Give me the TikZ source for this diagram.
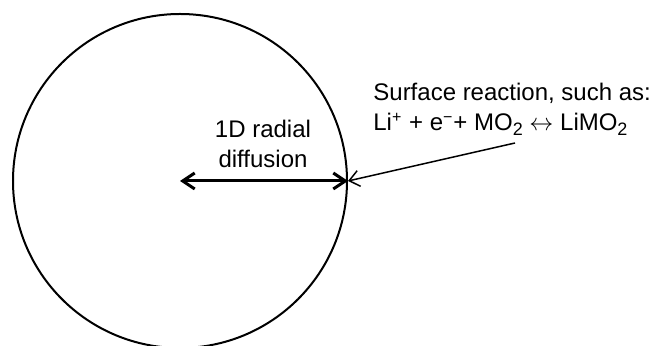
\documentclass[tikz,border=0pt]{standalone}
\usepackage{fontspec}
\setmainfont{Liberation Sans}
\usetikzlibrary{arrows.meta}
\tikzset{
  lbl/.style={inner sep=0pt, font=\fontsize{12}{15}\selectfont},
  thickarrow/.style={line width=1.5pt, {Straight Barb[length=6pt,width=8pt]}-{Straight Barb[length=6pt,width=8pt]}},
  thinarrow/.style={line width=0.75pt, -{Straight Barb[length=5pt,width=8pt]}},
}
\begin{document}
\begin{tikzpicture}[x=0.5pt,y=-0.5pt]
\useasboundingbox (0,0) rectangle (655,346);
\clip (0,0) rectangle (655,346);
\node[circle, draw, line width=1pt, minimum size=167pt, inner sep=0pt] (ball) at (180,181) {};
\coordinate (rx) at (515,143);
\draw[thickarrow] (ball.center) -- (ball.east);
\draw[thinarrow] (rx) -- (ball.east);
\node[lbl, align=center, anchor=base] (diff) at (263,168) {1D radial\\diffusion};
\node[lbl, align=left, anchor=base west] (react) at (373,131) {Surface reaction, such as:\\Li\textsuperscript{+} + e\textsuperscript{\char"2212}+ MO\raisebox{-0.35ex}{\fontsize{9}{9}\selectfont 2} $\leftrightarrow$ LiMO\raisebox{-0.35ex}{\fontsize{9}{9}\selectfont 2}};
\end{tikzpicture}
\end{document}
